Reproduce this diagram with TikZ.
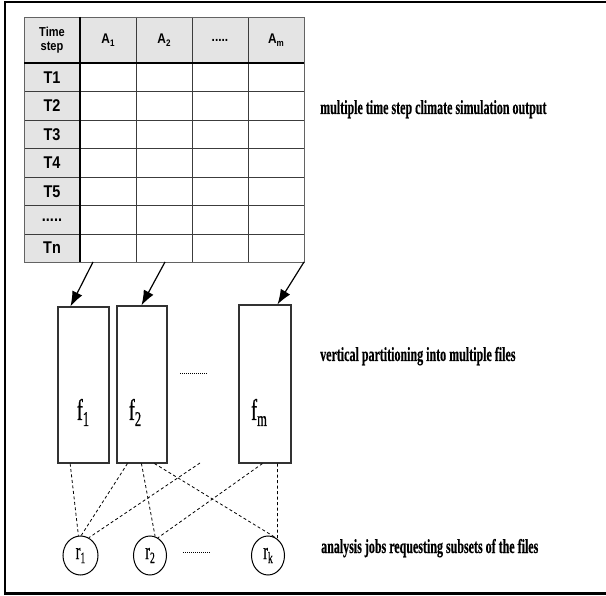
\documentclass[tikz,border=0pt]{standalone}
\usepackage{fontspec}
\usetikzlibrary{calc,shapes.geometric,arrows.meta}
\newfontfamily\cserif[FakeStretch=0.6,FakeBold=0.4]{Liberation Serif}
\newfontfamily\cserifb[FakeStretch=0.6,FakeBold=0.6]{Liberation Serif}
\newfontfamily\csans[FakeStretch=0.85]{Liberation Sans}
\definecolor{hdrgray}{RGB}{228,228,228}
\definecolor{gridgray}{RGB}{60,60,60}
\definecolor{boxgray}{RGB}{50,50,50}
\newcommand\lowsub[2]{\raisebox{-#1}{#2}}
\begin{document}
\begin{tikzpicture}[x=1pt,y=-1pt,
  frame/.style={line width=2.8pt,black},
  grid/.style={line width=0.9pt,gridgray},
  thickgrid/.style={line width=2.2pt,black},
  tcell/.style={inner sep=0pt,align=center,font=\csans\bfseries\fontsize{17}{18}\selectfont},
  hcell/.style={inner sep=0pt,align=center,font=\csans\bfseries\fontsize{13}{14.5}\selectfont},
  acell/.style={inner sep=0pt,align=center,font=\csans\bfseries\fontsize{14}{15}\selectfont},
  filebox/.style={draw=boxgray,fill=white,line width=1.1pt,inner sep=0pt},
  flabel/.style={inner sep=0pt,anchor=base,font=\cserifb\fontsize{30}{32}\selectfont},
  job/.style={draw=black,ellipse,line width=1pt,inner sep=0pt,minimum width=33pt,minimum height=39pt,font=\cserifb\fontsize{24}{26}\selectfont},
  desc/.style={inner sep=0pt,anchor=base west,font=\cserif\bfseries\fontsize{20}{22}\selectfont},
  part/.style={-{Latex[length=15pt,width=11pt]},line width=1.2pt,black},
  req/.style={dash pattern=on 3pt off 2.5pt,line width=0.8pt,black},
  dots/.style={dash pattern=on 1pt off 1pt,line width=0.8pt,black}
]
\useasboundingbox (0,0) rectangle (606,596);
% frame
\draw[frame] (606,593.5) -- (5,593.5) -- (5,2) -- (606,2);

% table
\fill[hdrgray] (24,17) rectangle (304,63);
\fill[hdrgray] (24,63) rectangle (80,262);
\foreach \yy in {91.5,120,148.5,177,205.5,234} \draw[grid] (24,\yy) -- (304,\yy);
\foreach \xx in {136,192,248} \draw[grid] (\xx,17) -- (\xx,262);
\draw[line width=0.8pt,gridgray!80] (24,17) rectangle (304,262);
\draw[thickgrid] (24,63) -- (304,63);
\draw[thickgrid] (80,17) -- (80,262);

\node[hcell] (h0) at (52,40) {Time\\step};
\node[acell] (h1) at (108,40) {A\lowsub{2.5pt}{\fontsize{9.5}{10}\selectfont 1}};
\node[acell] (h2) at (164,40) {A\lowsub{2.5pt}{\fontsize{9.5}{10}\selectfont 2}};
\node[acell] (h3) at (220,40) {.....};
\node[acell] (h4) at (276,40) {A\lowsub{2.5pt}{\fontsize{9.5}{10}\selectfont m}};
\node[tcell] (t1) at (52,77.25) {T1};
\node[tcell] (t2) at (52,105.75) {T2};
\node[tcell] (t3) at (52,134.25) {T3};
\node[tcell] (t4) at (52,162.75) {T4};
\node[tcell] (t5) at (52,191.25) {T5};
\node[tcell] (t6) at (52,219.75) {.....};
\node[tcell] (t7) at (52,248) {Tn};

% arrow sources on table bottom
\coordinate (s1) at (93,262);
\coordinate (s2) at (165,262);
\coordinate (s3) at (304,262);

% file boxes
\node[filebox,minimum width=51pt,minimum height=156pt] (f1) at (83.5,385) {};
\node[filebox,minimum width=50pt,minimum height=157pt] (f2) at (142,384.5) {};
\node[filebox,minimum width=52pt,minimum height=158pt] (fm) at (265,384) {};
\node[flabel] (f1t) at (83,420) {f\lowsub{6pt}{\fontsize{21}{22}\selectfont 1}};
\node[flabel] (f2t) at (135,420) {f\lowsub{6pt}{\fontsize{21}{22}\selectfont 2}};
\node[flabel] (fmt) at (259,420) {f\lowsub{6pt}{\fontsize{21}{22}\selectfont m}};

\draw[part] (s1) -- ($(f1.north west)+(13,0)$);
\draw[part] (s2) -- ($(f2.north west)+(25,0)$);
\draw[part] (s3) -- ($(fm.north west)+(39,0)$);

\coordinate (dA1) at (180,373);
\coordinate (dA2) at (207,373);
\draw[dots] (dA1) -- (dA2);

% jobs
\node[job,minimum width=35pt] (r1) at (80.5,555.5) {r\lowsub{4pt}{\fontsize{16}{17}\selectfont 1}};
\node[job] (r2) at (150,555.5) {r\lowsub{4pt}{\fontsize{16}{17}\selectfont 2}};
\node[job] (rk) at (268,555.5) {r\lowsub{4pt}{\fontsize{16}{17}\selectfont k}};

\coordinate (dB1) at (183,552);
\coordinate (dB2) at (211,552);
\draw[dots] (dB1) -- (dB2);

\coordinate (free) at (200,463);
\draw[req] ($(f1.south west)+(12.7,0)$) -- (r1.96);
\draw[req] ($(f2.south west)+(11,0)$) -- (r1.88);
\draw[req] (free) -- (r1.65);
\draw[req] ($(f2.south west)+(25,0)$) -- (r2.75);
\draw[req] ($(f2.south west)+(38,0)$) -- (rk.68);
\draw[req] ($(fm.south west)+(24,0)$) -- (r2.66);
\draw[req] ($(fm.south west)+(39,0)$) -- (rk.60);

% descriptions
\node[desc] (d1) at (320,114) {multiple time step climate simulation output};
\node[desc] (d2) at (320,361) {vertical partitioning into multiple files};
\node[desc] (d3) at (321,553) {analysis jobs requesting subsets of the files};
\end{tikzpicture}
\end{document}
